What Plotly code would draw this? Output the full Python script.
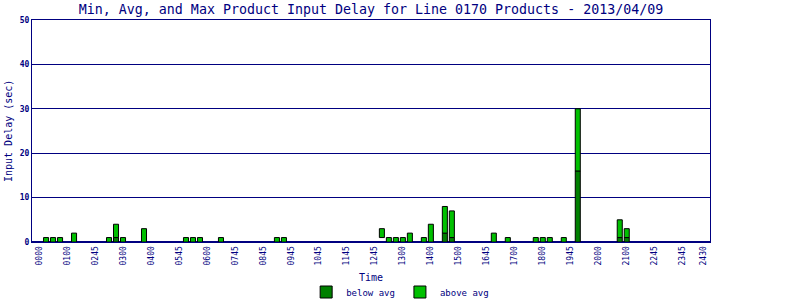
import plotly.graph_objects as go

# 15-minute slots (index 0..95)
tick_slots = [0, 4, 8, 12, 16, 20, 24, 28, 32, 36, 40, 44, 48, 52, 56, 60, 64, 68, 72, 76, 80, 84, 88, 92, 95]
tick_labels = ["0000", "0100", "0245", "0300", "0400", "0545", "0600", "0745", "0845", "0945",
               "1045", "1145", "1245", "1300", "1400", "1500", "1645", "1700", "1800", "1945",
               "2000", "2100", "2245", "2345", "2430"]

bar_slots = [1, 2, 3, 5, 10, 11, 12, 15, 21, 22, 23, 26, 34, 35, 49, 50, 51, 52, 53, 55, 56,
             58, 59, 65, 67, 71, 72, 73, 75, 77, 83, 84]
min_delay = [0, 0, 0, 0, 0, 0, 0, 0, 0, 0, 0, 0, 0, 0, 1, 0, 0, 0, 0, 0, 0,
             0, 0, 0, 0, 0, 0, 0, 0, 0, 0, 0]
avg_delay = [0, 0, 0, 0, 0, 1, 0, 0, 0, 0, 0, 0, 0, 0, 1, 0, 0, 0, 0, 0, 0,
             2, 1, 0, 0, 0, 0, 0, 0, 16, 1, 1]
max_delay = [1, 1, 1, 2, 1, 4, 1, 3, 1, 1, 1, 1, 1, 1, 3, 1, 1, 1, 2, 1, 4,
             8, 7, 2, 1, 1, 1, 1, 1, 30, 5, 3]

NAVY = "#000080"
FONT = "DejaVu Sans Mono"

below = [(a - m) if a - m > 0 else None for a, m in zip(avg_delay, min_delay)]
above = [(x - a) if x - a > 0 else None for x, a in zip(max_delay, avg_delay)]

fig = go.Figure()
fig.add_trace(go.Bar(
    x=bar_slots, y=below, base=min_delay, name="below avg", width=0.72,
    marker=dict(color="#008000", line=dict(color="black", width=1)),
))
fig.add_trace(go.Bar(
    x=bar_slots, y=above, base=avg_delay, name="above avg", width=0.72,
    marker=dict(color="#00C000", line=dict(color="black", width=1)),
))

fig.update_layout(
    width=800, height=300,
    margin=dict(l=32, r=90, t=20, b=58, autoexpand=False),
    paper_bgcolor="white", plot_bgcolor="white",
    barmode="overlay",
    showlegend=True,
    title=dict(
        text="Min, Avg, and Max Product Input Delay for Line 0170 Products - 2013/04/09",
        font=dict(family=FONT, size=13.3, color=NAVY),
        x=0.5, xref="paper", xanchor="center",
        y=1 - 9 / 300, yref="container", yanchor="middle",
    ),
    legend=dict(
        orientation="h", x=0.543, xanchor="center",
        y=(242 - 292) / 222, yanchor="middle",
        font=dict(family=FONT, size=9, color=NAVY),
        bgcolor="rgba(0,0,0,0)", traceorder="normal",
    ),
    xaxis=dict(
        range=[-1.01, 95.9], automargin=False,
        tickmode="array", tickvals=tick_slots, ticktext=tick_labels,
        tickangle=-90, ticks="",
        tickfont=dict(family=FONT, size=8, color=NAVY),
        showgrid=False, zeroline=False,
        showline=True, linecolor=NAVY, linewidth=1, mirror=True,
    ),
    yaxis=dict(
        range=[0, 50], dtick=10, tick0=0, ticks="", automargin=False,
        tickfont=dict(family=FONT, size=8, color=NAVY, weight="bold"),
        showgrid=True, gridcolor=NAVY, gridwidth=1,
        zeroline=True, zerolinecolor=NAVY, zerolinewidth=2,
        showline=True, linecolor=NAVY, linewidth=1, mirror=True,
    ),
    annotations=[
        dict(text="Time", xref="paper", yref="paper", x=0.5, y=(242 - 277) / 222,
             xanchor="center", yanchor="middle", showarrow=False,
             font=dict(family=FONT, size=10, color=NAVY)),
        dict(text="Input Delay (sec)", xref="paper", yref="paper",
             x=(8 - 32) / 678, y=0.5, textangle=-90,
             xanchor="center", yanchor="middle", showarrow=False,
             font=dict(family=FONT, size=10, color=NAVY)),
    ],
)

fig.write_html("out.html")
